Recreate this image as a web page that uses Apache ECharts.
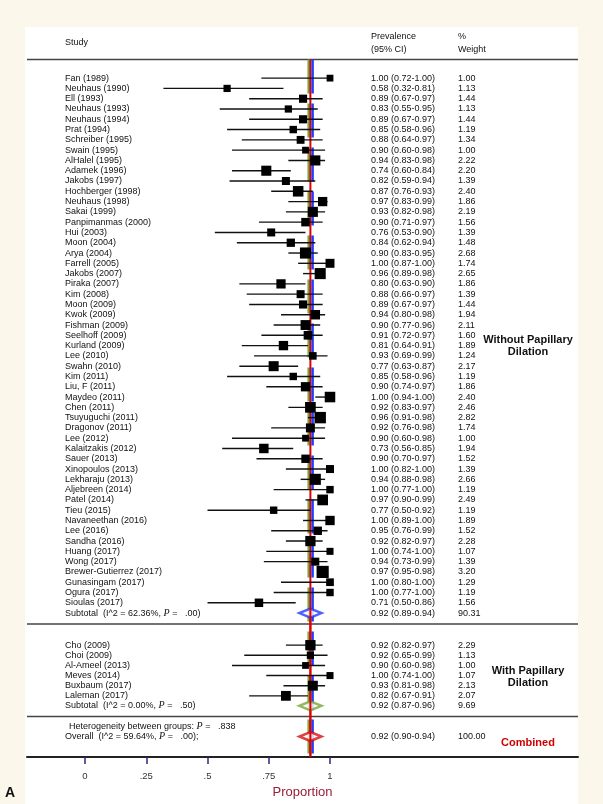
<!DOCTYPE html>
<html><head><meta charset="utf-8">
<script src="https://cdn.jsdelivr.net/npm/echarts@6/dist/echarts.min.js"></script>
<style>html,body{margin:0;padding:0;background:#fbf7ea;} #c{width:603px;height:804px;}</style>
</head><body><div id="c"></div>
<script>
// ---------- DATA ----------
const studies1 = ['Fan (1989)','Neuhaus (1990)','Ell (1993)','Neuhaus (1993)','Neuhaus (1994)','Prat (1994)','Schreiber (1995)','Swain (1995)','AlHalel (1995)','Adamek (1996)','Jakobs (1997)','Hochberger (1998)','Neuhaus (1998)','Sakai (1999)','Panpimanmas (2000)','Hui (2003)','Moon (2004)','Arya (2004)','Farrell (2005)','Jakobs (2007)','Piraka (2007)','Kim (2008)','Moon (2009)','Kwok (2009)','Fishman (2009)','Seelhoff (2009)','Kurland (2009)','Lee (2010)','Swahn (2010)','Kim (2011)','Liu, F (2011)','Maydeo (2011)','Chen (2011)','Tsuyuguchi (2011)','Dragonov (2011)','Lee (2012)','Kalaitzakis (2012)','Sauer (2013)','Xinopoulos (2013)','Lekharaju (2013)','Aljebreen (2014)','Patel (2014)','Tieu (2015)','Navaneethan (2016)','Lee (2016)','Sandha (2016)','Huang (2017)','Wong (2017)','Brewer-Gutierrez (2017)','Gunasingam (2017)','Ogura (2017)','Sioulas (2017)'];
const prev1 = [1.00,0.58,0.89,0.83,0.89,0.85,0.88,0.90,0.94,0.74,0.82,0.87,0.97,0.93,0.90,0.76,0.84,0.90,1.00,0.96,0.80,0.88,0.89,0.94,0.90,0.91,0.81,0.93,0.77,0.85,0.90,1.00,0.92,0.96,0.92,0.90,0.73,0.90,1.00,0.94,1.00,0.97,0.77,1.00,0.95,0.92,1.00,0.94,0.97,1.00,1.00,0.71];
const lo1 = [0.72,0.32,0.67,0.55,0.67,0.58,0.64,0.60,0.83,0.60,0.59,0.76,0.83,0.82,0.71,0.53,0.62,0.83,0.87,0.89,0.63,0.66,0.67,0.80,0.77,0.72,0.64,0.69,0.63,0.58,0.74,0.94,0.83,0.91,0.76,0.60,0.56,0.70,0.82,0.88,0.77,0.90,0.50,0.89,0.76,0.82,0.74,0.73,0.95,0.80,0.77,0.50];
const hi1 = [1.00,0.81,0.97,0.95,0.97,0.96,0.97,0.98,0.98,0.84,0.94,0.93,0.99,0.98,0.97,0.90,0.94,0.95,1.00,0.98,0.90,0.97,0.97,0.98,0.96,0.97,0.91,0.99,0.87,0.96,0.97,1.00,0.97,0.98,0.98,0.98,0.85,0.97,1.00,0.98,1.00,0.99,0.92,1.00,0.99,0.97,1.00,0.99,0.98,1.00,1.00,0.86];
const weight1 = [1.00,1.13,1.44,1.13,1.44,1.19,1.34,1.00,2.22,2.20,1.39,2.40,1.86,2.19,1.56,1.39,1.48,2.68,1.74,2.65,1.86,1.39,1.44,1.94,2.11,1.60,1.89,1.24,2.17,1.19,1.86,2.40,2.46,2.82,1.74,1.00,1.94,1.52,1.39,2.66,1.19,2.49,1.19,1.89,1.52,2.28,1.07,1.39,3.20,1.29,1.19,1.56];

const studies2 = ['Cho (2009)','Choi (2009)','Al-Ameel (2013)','Meves (2014)','Buxbaum (2017)','Laleman (2017)'];
const prev2 = [0.92,0.92,0.90,1.00,0.93,0.82];
const lo2 = [0.82,0.65,0.60,0.74,0.81,0.67];
const hi2 = [0.97,0.99,0.98,1.00,0.98,0.91];
const weight2 = [2.29,1.13,1.00,1.07,2.13,2.07];

const summaryLabels = ['Subtotal  (I^2 = 62.36%, {i|P} =   .00)','Subtotal  (I^2 = 0.00%, {i|P} =   .50)','Overall  (I^2 = 59.64%, {i|P} =   .00);'];
const summaryPrev = [0.92,0.92,0.92];
const summaryLo = [0.89,0.87,0.90];
const summaryHi = [0.94,0.96,0.94];
const summaryWeight = [90.31,9.69,100.00];
const heterogeneityText = 'Heterogeneity between groups: {i|P} =   .838';
const groupLabels = [['Without Papillary','Dilation'],['With Papillary','Dilation'],['Combined']];
const refLines = [0.913, 0.92, 0.929];
const xTicks = [0, 0.25, 0.5, 0.75, 1];

// ---------- LAYOUT ----------
const FONT = "'Liberation Sans', Arial, Helvetica, sans-serif";
const rows1 = studies1.map((_, i) => i);
const rows2 = studies2.map((_, i) => 55.12 + i * 0.985);
const summaryRows = [52, 61.02, 64];
const hetRow = 63;
const sepRows = [-1.8, 53.05, 62.05];
const X_NAME = 65, X_CI = 371, X_W = 458;

const studyData = [];
rows1.forEach((r, i) => studyData.push([prev1[i], r, lo1[i], hi1[i], weight1[i]]));
rows2.forEach((r, i) => studyData.push([prev2[i], r, lo2[i], hi2[i], weight2[i]]));

function fmt(p, l, h) { return p.toFixed(2) + ' (' + l.toFixed(2) + '-' + h.toFixed(2) + ')'; }

const textRows = [];
rows1.forEach((r, i) => textRows.push({row: r, name: studies1[i], ci: fmt(prev1[i], lo1[i], hi1[i]), w: weight1[i].toFixed(2)}));
rows2.forEach((r, i) => textRows.push({row: r, name: studies2[i], ci: fmt(prev2[i], lo2[i], hi2[i]), w: weight2[i].toFixed(2)}));
summaryRows.forEach((r, i) => textRows.push({row: r, name: summaryLabels[i], ci: fmt(summaryPrev[i], summaryLo[i], summaryHi[i]), w: summaryWeight[i].toFixed(2)}));
textRows.push({row: hetRow, name: heterogeneityText, ci: '', w: '', indent: 4});

const diamondColors = ['#1f3cff', '#77a83a', '#d80f0f'];
const refColors = ['#77a83a', '#e00000', '#1f3cff'];

const chart = echarts.init(document.getElementById('c'), null, {renderer: 'canvas'});
const richP = {i: {fontFamily: "'Liberation Serif', 'Times New Roman', serif", fontStyle: 'italic', fontSize: 10, fill: '#111'}};

chart.setOption({
  backgroundColor: '#fbf7ea',
  animation: false,
  graphic: [
    {type: 'rect', left: 25, top: 27, shape: {width: 553, height: 777}, style: {fill: '#ffffff'}, z: -10},
    {type: 'text', x: 65, y: 43, style: {text: 'Study', font: '9px ' + FONT, fill: '#111', verticalAlign: 'middle'}},
    {type: 'text', x: 371, y: 37, style: {text: 'Prevalence', font: '9px ' + FONT, fill: '#111', verticalAlign: 'middle'}},
    {type: 'text', x: 371, y: 50, style: {text: '(95% CI)', font: '9px ' + FONT, fill: '#111', verticalAlign: 'middle'}},
    {type: 'text', x: 458, y: 37, style: {text: '%', font: '9px ' + FONT, fill: '#111', verticalAlign: 'middle'}},
    {type: 'text', x: 458, y: 50, style: {text: 'Weight', font: '9px ' + FONT, fill: '#111', verticalAlign: 'middle'}},
    {type: 'text', x: 528, y: 340, style: {text: groupLabels[0][0], font: 'bold 11px ' + FONT, fill: '#111', align: 'center', verticalAlign: 'middle'}},
    {type: 'text', x: 528, y: 352, style: {text: groupLabels[0][1], font: 'bold 11px ' + FONT, fill: '#111', align: 'center', verticalAlign: 'middle'}},
    {type: 'text', x: 528, y: 671, style: {text: groupLabels[1][0], font: 'bold 11px ' + FONT, fill: '#111', align: 'center', verticalAlign: 'middle'}},
    {type: 'text', x: 528, y: 683, style: {text: groupLabels[1][1], font: 'bold 11px ' + FONT, fill: '#111', align: 'center', verticalAlign: 'middle'}},
    {type: 'text', x: 528, y: 743, style: {text: groupLabels[2][0], font: 'bold 11px ' + FONT, fill: '#d00000', align: 'center', verticalAlign: 'middle'}},
    {type: 'text', x: 5, y: 793, style: {text: 'A', font: 'bold 14px ' + FONT, fill: '#111', verticalAlign: 'middle'}}
  ],
  grid: {left: 27, right: 25, top: 78.6 - 5 * 10.38, bottom: 804 - (78.6 + 66 * 10.38), containLabel: false},
  xAxis: {
    type: 'value', min: (27 - 85) / 245, max: (578 - 85) / 245,
    axisLine: {show: true, onZero: false, lineStyle: {color: '#222', width: 2}},
    axisTick: {show: true, customValues: xTicks, length: 7, lineStyle: {color: '#2a2a80', width: 1.5}},
    axisLabel: {show: true, customValues: xTicks, margin: 14, fontSize: 9.5, color: '#333', fontFamily: FONT,
      formatter: v => (v === 0 || v === 1) ? String(v) : String(v).replace(/^0/, '')},
    splitLine: {show: false},
    name: 'Proportion', nameLocation: 'middle', nameGap: 23,
    nameTextStyle: {color: '#9a1c35', fontSize: 13, fontFamily: FONT}
  },
  yAxis: {type: 'value', inverse: true, min: -5, max: 66, show: false},
  series: [
    { // horizontal separators
      type: 'custom', z: 1, data: sepRows.map(r => [0, r]),
      renderItem: (params, api) => {
        const cs = params.coordSys;
        const y = api.coord([0, api.value(1)])[1];
        return {type: 'line', shape: {x1: cs.x, y1: y, x2: cs.x + cs.width, y2: y}, style: {stroke: '#444', lineWidth: 1.5}};
      }
    },
    { // reference vertical lines
      type: 'custom', z: 2, data: refLines.map((v, i) => [v, i]),
      renderItem: (params, api) => {
        const i = api.value(1);
        const a = api.coord([api.value(0), -1.8]);
        const b = api.coord([api.value(0), 66]);
        const isRed = i === 1;
        return {type: 'line', shape: {x1: a[0], y1: a[1], x2: b[0], y2: b[1]},
          style: {stroke: refColors[i], lineWidth: isRed ? 2 : 2.5, lineDash: isRed ? null : [34, 10]}};
      }
    },
    { // summary diamonds
      type: 'scatter', z: 3, symbol: 'diamond', symbolSize: [22, 9],
      data: summaryRows.map((r, i) => ({value: [summaryPrev[i], r], itemStyle: {color: '#fff', borderColor: diamondColors[i], borderWidth: 3}}))
    },
    { // red line over diamonds
      type: 'custom', z: 4, data: [[refLines[1]]],
      renderItem: (params, api) => {
        const a = api.coord([api.value(0), 51.5]);
        const b = api.coord([api.value(0), 66]);
        return {type: 'line', shape: {x1: a[0], y1: a[1], x2: b[0], y2: b[1]}, style: {stroke: '#e00000', lineWidth: 2}};
      }
    },
    { // study CIs and boxes
      type: 'custom', z: 5, data: studyData,
      renderItem: (params, api) => {
        const y = api.value(1);
        const p = api.coord([api.value(0), y]);
        const l = api.coord([api.value(2), y]);
        const h = api.coord([api.value(3), y]);
        const s = 6.8 * Math.sqrt(api.value(4));
        return {type: 'group', children: [
          {type: 'line', shape: {x1: l[0], y1: l[1], x2: h[0], y2: h[1]}, style: {stroke: '#111', lineWidth: 1.4}},
          {type: 'rect', shape: {x: p[0] - s / 2, y: p[1] - s / 2, width: s, height: s}, style: {fill: '#000'}}
        ]};
      }
    },
    { // text columns
      type: 'custom', z: 6, data: textRows.map(t => [0, t.row]),
      renderItem: (params, api) => {
        const t = textRows[params.dataIndex];
        const y = api.coord([0, api.value(1)])[1];
        const base = {font: '9px ' + FONT, fill: '#111', verticalAlign: 'middle'};
        const ch = [
          {type: 'text', x: X_NAME + (t.indent || 0), y: y, style: Object.assign({}, base, {text: t.name, rich: richP})}
        ];
        if (t.ci) ch.push({type: 'text', x: X_CI, y: y, style: Object.assign({}, base, {text: t.ci})});
        if (t.w) ch.push({type: 'text', x: X_W, y: y, style: Object.assign({}, base, {text: t.w})});
        return {type: 'group', children: ch};
      }
    }
  ]
});
</script></body></html>
